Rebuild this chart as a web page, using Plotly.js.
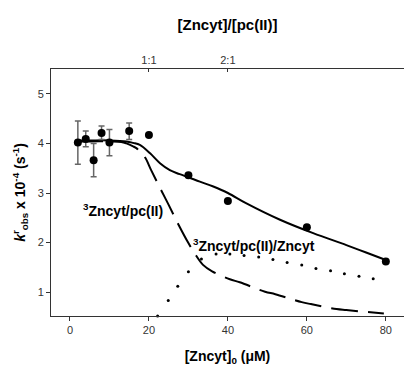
<!DOCTYPE html>
<html>
<head>
<meta charset="utf-8">
<script src="https://cdn.plot.ly/plotly-3.0.1.min.js"></script>
<style>html,body{margin:0;padding:0;background:#fff;}#chart{width:404px;height:366px;}</style>
</head>
<body>
<div id="chart"></div>
<script>
// Measured data points
const obsX = [2, 4, 6, 8, 10, 15, 20, 30, 40, 60, 80];
const obsY = [4.02, 4.09, 3.66, 4.21, 4.02, 4.25, 4.17, 3.36, 2.84, 2.31, 1.62];
const errPlus = [0.43, 0.16, 0.34, 0.14, 0.26, 0.16, 0, 0, 0, 0, 0];
const errMinus = [0.44, 0.16, 0.33, 0.13, 0.27, 0.17, 0, 0, 0, 0, 0];

// Total fit (solid)
const fitX = [1.5, 5, 10, 14.3, 16, 17.7, 20.3, 22.8, 25.3, 27.8, 32.9, 36.3, 40, 44.7, 53.2, 61.6, 70, 75, 80];
const fitY = [4.06, 4.06, 4.06, 4.04, 4.01, 3.97, 3.80, 3.60, 3.46, 3.38, 3.23, 3.13, 3.00, 2.79, 2.46, 2.19, 1.95, 1.80, 1.65];

// 3Zncyt/pc(II) component (dashed)
const binX = [1.5, 5, 10, 13, 14.3, 16, 16.9, 17.7, 19, 20.5, 22.5, 25, 27.5, 30, 31.6, 33.7, 36, 40.5, 43, 49.4, 52, 58.7, 61, 67.5, 70, 76.8, 79.5];
const binY = [4.04, 4.04, 4.04, 4.03, 4.00, 3.94, 3.90, 3.83, 3.72, 3.47, 3.15, 2.76, 2.36, 1.99, 1.78, 1.55, 1.42, 1.26, 1.20, 1.01, 0.96, 0.80, 0.76, 0.66, 0.64, 0.59, 0.57];

// 3Zncyt/pc(II)/Zncyt component (dotted)
const terX = [22.2, 24.9, 27.3, 30, 33.3, 37, 40.5, 44.1, 47.8, 51.4, 55, 58.7, 62.3, 66, 69.5, 73.2, 76.8];
const terY = [0.52, 0.83, 1.12, 1.41, 1.67, 1.77, 1.77, 1.74, 1.71, 1.66, 1.60, 1.55, 1.48, 1.43, 1.37, 1.32, 1.27];

// Tick labels
const xTicks = [0, 20, 40, 60, 80];
const yTicks = [1, 2, 3, 4, 5];
const ratioTicks = [20, 40];
const ratioLabels = ["1:1", "2:1"];

const FONT = "Arial, 'Liberation Sans', sans-serif";
const AX = '#333';

const traces = [
  {x: fitX, y: fitY, mode: 'lines', line: {color: '#000', width: 2, shape: 'spline'}, hoverinfo: 'skip'},
  {x: binX, y: binY, mode: 'lines', line: {color: '#000', width: 2, dash: '27px,10px', shape: 'spline'}, hoverinfo: 'skip'},
  {x: terX, y: terY, mode: 'markers', marker: {color: '#000', size: 3}, cliponaxis: false, hoverinfo: 'skip'},
  {x: obsX, y: obsY, mode: 'markers', marker: {color: '#000', size: 8},
   error_y: {type: 'data', symmetric: false, array: errPlus, arrayminus: errMinus, color: '#666', thickness: 1.5, width: 3},
   hoverinfo: 'skip'},
  {x: ratioTicks, y: [null, null], xaxis: 'x2', mode: 'markers', hoverinfo: 'skip'}
];

const layout = {
  width: 404, height: 366,
  margin: {l: 51, r: 0, t: 69, b: 50},
  paper_bgcolor: '#fff', plot_bgcolor: '#fff',
  showlegend: false,
  font: {family: FONT, color: '#000'},
  xaxis: {
    range: [-4.8, 84.6], tickvals: xTicks, ticks: 'outside', ticklen: 4, tickcolor: AX,
    showline: true, linecolor: AX, linewidth: 1, showgrid: false, zeroline: false,
    tickfont: {size: 11, color: '#333', family: FONT},
    title: {text: '<b>[Zncyt]<sub>0</sub> (μM)</b>', font: {size: 14, family: FONT}, standoff: 18}
  },
  xaxis2: {
    overlaying: 'x', side: 'top', range: [-4.8, 84.6], tickvals: ratioTicks, ticktext: ratioLabels,
    ticks: 'inside', ticklen: 3, tickcolor: AX,
    showline: true, linecolor: AX, linewidth: 1, showgrid: false, zeroline: false,
    tickfont: {size: 11, color: '#333', family: FONT},
    title: {text: '<b>[Zncyt]/[pc(II)]</b>', font: {size: 15, family: FONT}, standoff: 19}
  },
  yaxis: {
    range: [0.52, 5.5], tickvals: yTicks, ticks: 'outside', ticklen: 4, tickcolor: AX,
    showline: true, linecolor: AX, linewidth: 1, showgrid: false, zeroline: false,
    tickfont: {size: 11, color: '#333', family: FONT},
    title: {text: '<b><i>k</i><sup>r</sup><sub>obs</sub> x 10<sup>-4</sup> (s<sup>-1</sup>)</b>', font: {size: 14, family: FONT}, standoff: 8}
  },
  annotations: [
    {x: 13.4, y: 2.66, xref: 'x', yref: 'y', showarrow: false,
     text: '<b><sup>3</sup>Zncyt/pc(II)</b>', font: {size: 14, family: FONT, color: '#000'}},
    {x: 46.6, y: 1.95, xref: 'x', yref: 'y', showarrow: false,
     text: '<b><sup>3</sup>Zncyt/pc(II)/Zncyt</b>', font: {size: 14, family: FONT, color: '#000'}}
  ]
};

Plotly.newPlot('chart', traces, layout, {staticPlot: true, displayModeBar: false});
</script>
</body>
</html>
